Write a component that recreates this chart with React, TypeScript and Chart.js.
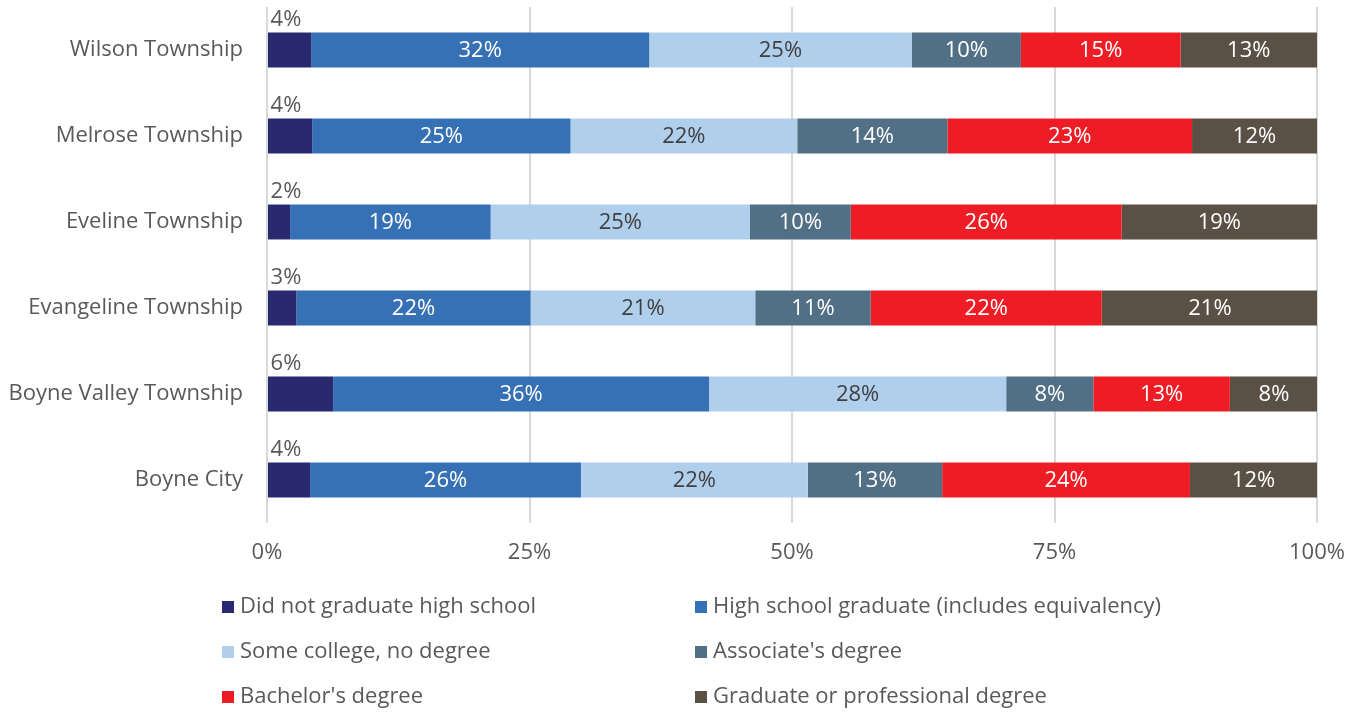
import React, { useEffect, useRef } from "react";
import { Chart, registerables } from "chart.js";

Chart.register(...registerables);

const categories = [
  "Wilson Township",
  "Melrose Township",
  "Eveline Township",
  "Evangeline Township",
  "Boyne Valley Township",
  "Boyne City",
];

const seriesNames = [
  "Did not graduate high school",
  "High school graduate (includes equivalency)",
  "Some college, no degree",
  "Associate's degree",
  "Bachelor's degree",
  "Graduate or professional degree",
];

const didNotGraduate = [4.2, 4.3, 2.2, 2.8, 6.3, 4.1];
const highSchool = [32.2, 24.6, 19.1, 22.3, 35.8, 25.8];
const someCollege = [25.0, 21.6, 24.7, 21.4, 28.3, 21.6];
const associate = [10.4, 14.3, 9.6, 11.0, 8.3, 12.8];
const bachelor = [15.2, 23.3, 25.8, 22.0, 13.0, 23.6];
const graduate = [13.0, 11.9, 18.6, 20.6, 8.4, 12.1];

const tickValues = [0, 25, 50, 75, 100];

const colors = ["#29296F", "#3670B5", "#B0CFEC", "#527085", "#EE1D25", "#5B5046"];
const labelColors = ["#595959", "#FFFFFF", "#404040", "#FFFFFF", "#FFFFFF", "#FFFFFF"];

const FONT = "'Open Sans', 'Noto Sans', sans-serif";
const FS = 22;

const labelPlugin = {
  id: "segLabels",
  afterDatasetsDraw(chart: any) {
    const ctx = chart.ctx;
    ctx.save();
    ctx.font = `${FS}px ${FONT}`;
    chart.data.datasets.forEach((ds: any, di: number) => {
      const meta = chart.getDatasetMeta(di);
      meta.data.forEach((el: any, i: number) => {
        const v = Math.round(ds.data[i]);
        const text = `${v}%`;
        ctx.fillStyle = labelColors[di];
        if (di === 0) {
          const left = Math.min(el.base, el.x);
          ctx.textAlign = "center";
          ctx.textBaseline = "middle";
          ctx.fillText(text, left + 18, el.y - el.height / 2 - 13);
        } else {
          ctx.textAlign = "center";
          ctx.textBaseline = "middle";
          ctx.fillText(text, (el.x + el.base) / 2, el.y + 1);
        }
      });
    });
    ctx.restore();
  },
};

const legendPlugin = {
  id: "customLegend",
  afterDraw(chart: any) {
    const ctx = chart.ctx;
    ctx.save();
    ctx.font = `${FS}px ${FONT}`;
    ctx.textBaseline = "middle";
    ctx.textAlign = "left";
    const colX = [222, 695];
    const rowY = [607, 652, 697];
    chart.data.datasets.forEach((ds: any, i: number) => {
      const x = colX[i % 2];
      const y = rowY[Math.floor(i / 2)];
      ctx.fillStyle = ds.backgroundColor;
      ctx.fillRect(x, y - 6, 12, 12);
      ctx.fillStyle = "#595959";
      ctx.fillText(ds.label, x + 18, y);
    });
    ctx.restore();
  },
};

export default function App() {
  const ref = useRef<HTMLCanvasElement | null>(null);

  useEffect(() => {
    document.body.style.margin = "0";
    const seriesData = [didNotGraduate, highSchool, someCollege, associate, bachelor, graduate];
    const chart = new Chart(ref.current as HTMLCanvasElement, {
      type: "bar",
      data: {
        labels: categories,
        datasets: seriesNames.map((name, i) => ({
          label: name,
          data: seriesData[i],
          backgroundColor: colors[i],
          borderWidth: 0,
          categoryPercentage: 1,
          barPercentage: 0.406,
        })),
      },
      options: {
        indexAxis: "y",
        responsive: false,
        animation: false,
        layout: { padding: { top: 7, right: 45, bottom: 140, left: 0 } },
        plugins: {
          legend: { display: false },
          tooltip: { enabled: false },
        },
        scales: {
          x: {
            stacked: true,
            min: 0,
            max: 100,
            afterBuildTicks(scale: any) {
              scale.ticks = tickValues.map((v) => ({ value: v }));
            },
            afterFit(scale: any) {
              scale.height = 50;
              scale.paddingLeft = 0;
              scale.paddingRight = 0;
            },
            ticks: {
              callback: (v: any) => `${v}%`,
              color: "#595959",
              font: { family: FONT, size: FS },
              padding: 17,
              maxRotation: 0,
            },
            grid: { color: "#D9D9D9", lineWidth: 2, drawTicks: false },
            border: { display: false },
          },
          y: {
            stacked: true,
            afterFit(scale: any) {
              scale.width = 267;
              scale.paddingTop = 0;
              scale.paddingBottom = 0;
            },
            ticks: {
              color: "#595959",
              font: { family: FONT, size: FS },
              padding: 24,
            },
            grid: { display: false, drawTicks: false },
            border: { display: false },
          },
        },
      },
      plugins: [labelPlugin, legendPlugin],
    } as any);
    return () => chart.destroy();
  }, []);

  return (
    <div style={{ position: "fixed", left: 0, top: 0, width: 1362, height: 713, background: "#fff" }}>
      <canvas ref={ref} width={1362} height={713} />
    </div>
  );
}
